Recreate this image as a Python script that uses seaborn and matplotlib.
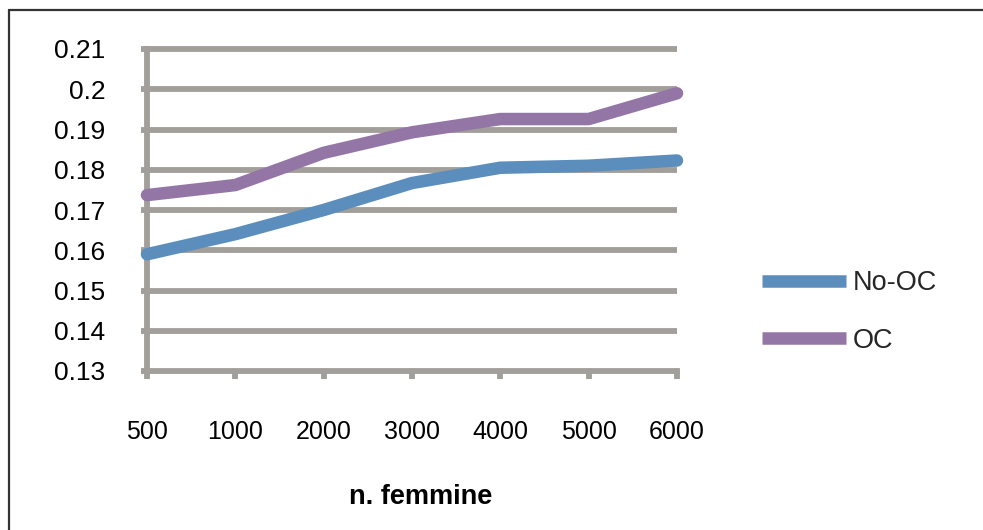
import matplotlib
matplotlib.use("Agg")
import matplotlib.pyplot as plt
from matplotlib.lines import Line2D
import seaborn as sns
import pandas as pd

# Data
categories = ["500", "1000", "2000", "3000", "4000", "5000", "6000"]
no_oc = [0.159, 0.164, 0.170, 0.1767, 0.1805, 0.181, 0.1823]
oc = [0.1737, 0.1762, 0.1842, 0.1893, 0.1926, 0.1926, 0.1990]
series_names = ["No-OC", "OC"]
y_ticks = [0.13, 0.14, 0.15, 0.16, 0.17, 0.18, 0.19, 0.2, 0.21]
y_tick_labels = ["0.13", "0.14", "0.15", "0.16", "0.17", "0.18", "0.19", "0.2", "0.21"]
x_title = "n. femmine"

colors = {"No-OC": "#5B8DBD", "OC": "#9376A6"}
grid_gray = "#A29E99"

df = pd.DataFrame({
    "n": categories * 2,
    "value": no_oc + oc,
    "serie": [series_names[0]] * len(categories) + [series_names[1]] * len(categories),
})

sns.set_theme(style="white")
plt.rcParams["font.family"] = ["Liberation Sans", "DejaVu Sans"]

W, H = 983, 530
fig = plt.figure(figsize=(W / 100, H / 100), dpi=100)
left_px, right_px, top_px, bottom_px = 147, 677, 49, 371
ax = fig.add_axes([left_px / W, 1 - bottom_px / H,
                   (right_px - left_px) / W, (bottom_px - top_px) / H])

GRID_LW = 4.2
LINE_LW = 9.0

# horizontal gridlines
for yv in y_ticks[1:]:
    ax.axhline(yv, color=grid_gray, lw=GRID_LW, zorder=1,
               solid_capstyle="butt", clip_on=False)

sns.lineplot(data=df, x="n", y="value", hue="serie", palette=colors,
             sort=False, linewidth=LINE_LW, legend=False, ax=ax, zorder=3)
for ln in ax.get_lines():
    if ln.get_linewidth() > GRID_LW + 1:
        ln.set_solid_capstyle("round")
        ln.set_solid_joinstyle("round")
        ln.set_clip_on(False)

ax.set_xlim(0, len(categories) - 1)
ax.set_ylim(0.13, 0.21)
ax.set_yticks(y_ticks)
ax.set_yticklabels(y_tick_labels)
ax.set_xticks(range(len(categories)))
ax.set_xticklabels(categories)
ax.set_xlabel("")
ax.set_ylabel("")

for side in ["top", "right"]:
    ax.spines[side].set_visible(False)
for side in ["left", "bottom"]:
    ax.spines[side].set_color(grid_gray)
    ax.spines[side].set_linewidth(GRID_LW)
    ax.spines[side].set_zorder(2)

ax.tick_params(axis="y", which="both", direction="out", length=4, width=GRID_LW,
               color=grid_gray, labelsize=19, labelcolor="black", pad=26, left=True)
ax.tick_params(axis="x", which="both", direction="out", length=5.5, width=GRID_LW,
               color=grid_gray, labelsize=18, labelcolor="black", pad=30, bottom=True)

# x-axis title
fig.text(421 / W, 1 - 497 / H, x_title, ha="center", va="center",
         fontsize=19.5, fontweight="bold", color="black")

# legend
handles = [Line2D([0], [0], color=colors[s], lw=LINE_LW, solid_capstyle="butt") for s in series_names]
fig.legend(handles, series_names, loc="center left",
           bbox_to_anchor=(762 / W, 1 - 312 / H), frameon=False,
           fontsize=19.5, handlelength=3.1, handletextpad=0.25, labelspacing=1.17,
           borderpad=0, borderaxespad=0)

# outer chart border
fig.add_artist(Line2D([8.5 / W, 1], [1 - 9.5 / H, 1 - 9.5 / H], transform=fig.transFigure,
                      color="#333333", lw=1.6))
fig.add_artist(Line2D([8.5 / W, 8.5 / W], [0, 1 - 9.5 / H], transform=fig.transFigure,
                      color="#333333", lw=1.6))

fig.savefig("out.png", dpi=100, facecolor="white")
